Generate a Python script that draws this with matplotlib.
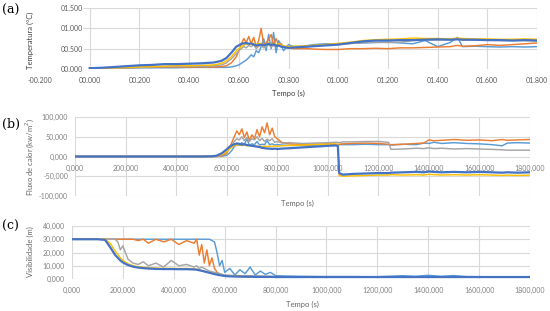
import matplotlib
matplotlib.use("Agg")
from matplotlib import pyplot as plt

plt.rcParams['font.family'] = ['Lato', 'DejaVu Sans']

# excel-ish palette
c_lb = "#5B9BD5"
c_or = "#ED7D31"
c_gr = "#A5A5A5"
c_ye = "#FFC000"
c_db = "#4472C4"

# ---------------- (a) temperatura ----------------
ta = [0, 0.05, 0.1, 0.15, 0.2, 0.25, 0.3, 0.35, 0.4, 0.45, 0.5, 0.53, 0.55, 0.57, 0.59,
      0.6, 0.61, 0.62, 0.63, 0.64, 0.65, 0.66, 0.67, 0.68, 0.69, 0.7, 0.71, 0.72, 0.73,
      0.74, 0.75, 0.76, 0.77, 0.78, 0.8, 0.82, 0.85, 0.88, 0.9, 0.95, 1.0, 1.05, 1.1,
      1.15, 1.2, 1.25, 1.3, 1.35, 1.4, 1.45, 1.48, 1.5, 1.55, 1.6, 1.65, 1.7, 1.75, 1.8]
a_lb = [0.01, 0.01, 0.02, 0.02, 0.03, 0.03, 0.03, 0.03, 0.04, 0.04, 0.04, 0.04, 0.04, 0.05,
        0.08, 0.10, 0.14, 0.18, 0.22, 0.28, 0.35, 0.30, 0.45, 0.40, 0.55, 0.75, 0.45, 0.85,
        0.50, 0.90, 0.40, 0.70, 0.60, 0.45, 0.60, 0.55, 0.55, 0.58, 0.60, 0.62, 0.62, 0.63,
        0.64, 0.65, 0.66, 0.64, 0.62, 0.70, 0.55, 0.65, 0.78, 0.55, 0.56, 0.55, 0.54, 0.55,
        0.54, 0.55]
a_or = [0.02, 0.02, 0.02, 0.03, 0.04, 0.04, 0.05, 0.05, 0.05, 0.05, 0.05, 0.06, 0.08, 0.15,
        0.30, 0.45, 0.60, 0.75, 0.65, 0.80, 0.62, 0.78, 0.55, 0.70, 1.00, 0.60, 0.65, 0.72,
        0.85, 0.60, 0.75, 0.58, 0.62, 0.55, 0.52, 0.50, 0.50, 0.50, 0.49, 0.48, 0.48, 0.50,
        0.50, 0.51, 0.50, 0.52, 0.52, 0.53, 0.54, 0.55, 0.58, 0.56, 0.57, 0.60, 0.58, 0.60,
        0.62, 0.64]
a_gr = [0.02, 0.02, 0.02, 0.03, 0.04, 0.05, 0.06, 0.06, 0.07, 0.07, 0.08, 0.10, 0.15, 0.25,
        0.38, 0.45, 0.50, 0.55, 0.52, 0.58, 0.55, 0.60, 0.50, 0.56, 0.58, 0.52, 0.55, 0.60,
        0.54, 0.58, 0.55, 0.57, 0.56, 0.55, 0.54, 0.55, 0.56, 0.57, 0.58, 0.60, 0.62, 0.63,
        0.65, 0.66, 0.65, 0.66, 0.70, 0.72, 0.71, 0.72, 0.73, 0.72, 0.71, 0.71, 0.70, 0.70,
        0.70, 0.69]
a_ye = [0.02, 0.02, 0.03, 0.04, 0.05, 0.06, 0.07, 0.08, 0.08, 0.09, 0.10, 0.14, 0.20, 0.30,
        0.45, 0.50, 0.55, 0.58, 0.62, 0.60, 0.65, 0.62, 0.60, 0.63, 0.62, 0.58, 0.62, 0.64,
        0.60, 0.63, 0.60, 0.62, 0.58, 0.57, 0.55, 0.56, 0.56, 0.57, 0.58, 0.60, 0.63, 0.66,
        0.70, 0.72, 0.73, 0.74, 0.76, 0.75, 0.75, 0.74, 0.76, 0.75, 0.74, 0.74, 0.73, 0.73,
        0.74, 0.73]
a_db = [0.02, 0.03, 0.05, 0.07, 0.09, 0.10, 0.12, 0.12, 0.13, 0.14, 0.16, 0.20, 0.27, 0.40,
        0.55, 0.58, 0.62, 0.63, 0.64, 0.62, 0.63, 0.60, 0.58, 0.59, 0.60, 0.58, 0.60, 0.62,
        0.59, 0.61, 0.57, 0.58, 0.55, 0.54, 0.52, 0.53, 0.54, 0.55, 0.56, 0.58, 0.60, 0.64,
        0.68, 0.70, 0.70, 0.71, 0.71, 0.72, 0.73, 0.72, 0.73, 0.72, 0.72, 0.71, 0.71, 0.70,
        0.71, 0.70]
a_xticks = [-0.2, 0, 0.2, 0.4, 0.6, 0.8, 1.0, 1.2, 1.4, 1.6, 1.8]
a_yticks = [0, 0.5, 1.0, 1.5]

# ---------------- (b) fluxo de calor ----------------
tb = [0, 100, 200, 300, 400, 500, 540, 560, 580, 600, 610, 620, 630, 640, 650, 660, 670,
      680, 690, 700, 710, 720, 730, 740, 750, 760, 770, 780, 790, 800, 820, 850, 900, 950,
      1000, 1030, 1040, 1045, 1060, 1100, 1150, 1200, 1240, 1250, 1300, 1350, 1380, 1400,
      1420, 1450, 1500, 1550, 1600, 1650, 1690, 1710, 1750, 1800]
b_lb = [0, 0, 0, 0, 0, 0, 0, 0, 0.5, 3, 8, 15, 25, 30, 28, 35, 30, 45, 28, 32, 30, 38, 29,
        31, 30, 40, 30, 32, 29, 30, 29, 28, 28, 29, 30, 30, 29, 30, 30, 30, 31, 30, 30, 29,
        31, 30, 34, 33, 36, 33, 35, 33, 32, 30, 27, 34, 35, 34]
b_or = [0, 0, 0, 0, 0, 0, 0, 0, 1, 8, 20, 35, 50, 65, 55, 70, 48, 62, 40, 55, 45, 68, 50,
        75, 60, 85, 55, 72, 50, 45, 35, 32, 30, 31, 32, 31, 30, 31, 32, 33, 34, 33, 31, 30,
        31, 33, 34, 42, 40, 41, 43, 41, 42, 40, 43, 41, 42, 43]
b_gr = [0, 0, 0, 0, 0, 0, 0, 0.5, 3, 12, 22, 30, 38, 45, 42, 50, 40, 48, 38, 45, 42, 50,
        40, 46, 38, 44, 40, 45, 36, 38, 34, 35, 33, 34, 35, 36, 36, 35, 37, 37, 38, 38, 36,
        18, 19, 21, 20, 22, 20, 21, 19, 20, 19, 18, 17, 16, 16, 16]
b_ye = [0, 0, 0, 0, 0, 0, 0, 1, 5, 12, 18, 24, 27, 29, 30, 28, 29, 27, 28, 26, 27, 25, 26,
        25, 26, 25, 26, 25, 27, 26, 27, 28, 29, 30, 31, 32, 31, -48, -50, -49, -48, -47,
        -47, -46, -47, -46, -47, -45, -46, -47, -46, -47, -46, -47, -48, -47, -48, -47]
b_db = [0, 0, 0, 0, 0, 0, 0.5, 2, 8, 18, 24, 28, 31, 33, 32, 30, 31, 29, 28, 27, 26, 25,
        24, 22, 21, 20, 20, 19, 20, 19, 20, 21, 23, 25, 27, 28, 27, -42, -46, -44, -43, -42,
        -42, -41, -40, -39, -40, -38, -39, -40, -39, -40, -39, -40, -41, -40, -41, -40]
b_xticks = [0, 200, 400, 600, 800, 1000, 1200, 1400, 1600, 1800]
b_yticks = [-100, -50, 0, 50, 100]

# ---------------- (c) visibilidade ----------------
tc = [0, 100, 130, 150, 170, 180, 190, 200, 220, 240, 260, 280, 300, 330, 360, 390, 420,
      450, 480, 490, 500, 510, 520, 530, 540, 550, 560, 570, 580, 590, 600, 620, 640, 660,
      680, 700, 720, 740, 760, 780, 800, 850, 900, 1000, 1100, 1200, 1300, 1350, 1400,
      1450, 1500, 1550, 1600, 1800]
c_lbv = [30, 30, 30, 30, 30, 30, 30, 30, 30, 30, 30, 30, 30, 30, 30, 30, 30, 30, 30, 30,
         30, 30, 30, 30, 30, 29, 28, 20, 10, 14, 5, 8, 3, 7, 4, 9, 3, 6, 3.5, 5, 2.5, 2.2,
         2.0, 1.8, 1.8, 1.7, 2.5, 2.0, 2.8, 2.0, 2.6, 1.8, 1.7, 1.6]
c_orv = [30, 30, 30, 30, 30, 30, 30, 30, 30, 30, 29, 30, 27, 30, 28, 30, 26, 29, 27, 30,
         18, 26, 12, 22, 10, 16, 8, 5, 4, 3, 2.5, 2.3, 2.2, 2.1, 2.0, 2.0, 1.9, 1.9, 1.8,
         1.8, 1.7, 1.7, 1.6, 1.6, 1.5, 1.5, 1.5, 1.5, 1.5, 1.5, 1.5, 1.5, 1.5, 1.5]
c_grv = [30, 30, 30, 30, 30, 28, 22, 25, 15, 12, 11, 13, 10, 12, 9, 14, 10, 11, 9, 10, 8,
         9, 8, 7, 6, 5.5, 5, 4.5, 4, 3.5, 3, 2.8, 2.6, 2.5, 2.4, 2.3, 2.3, 2.2, 2.1, 2.0,
         1.8, 1.7, 1.6, 1.5, 1.5, 1.5, 1.5, 1.5, 1.5, 1.5, 1.5, 1.5, 1.5, 1.5]
c_yev = [30, 30, 30, 27, 21, 18.5, 16, 14, 11.5, 10, 9.2, 8.8, 8.5, 8.2, 8.0, 8.0, 7.9,
         7.9, 7.6, 7.3, 6.9, 6.4, 5.9, 5.4, 4.9, 4.4, 3.9, 3.4, 3.0, 2.7, 2.4, 2.1, 2.0,
         1.9, 1.8, 1.7, 1.7, 1.6, 1.6, 1.6, 1.5, 1.5, 1.5, 1.5, 1.5, 1.5, 1.5, 1.5, 1.5,
         1.5, 1.5, 1.5, 1.5, 1.5]
c_dbv = [30, 30, 29.5, 24, 18, 16, 14, 12.5, 10.5, 9.3, 8.6, 8.2, 7.9, 7.6, 7.5, 7.5, 7.4,
         7.4, 7.2, 7.0, 6.6, 6.2, 5.7, 5.2, 4.7, 4.2, 3.7, 3.3, 2.9, 2.6, 2.3, 2.0, 1.9,
         1.8, 1.7, 1.7, 1.6, 1.6, 1.6, 1.6, 1.5, 1.5, 1.5, 1.5, 1.5, 1.5, 1.5, 1.5, 1.5,
         1.5, 1.5, 1.5, 1.5, 1.5]
c_xticks = [0, 200, 400, 600, 800, 1000, 1200, 1400, 1600, 1800]
c_yticks = [0, 10, 20, 30, 40]

grid_c = "#d9d9d9"
W, H = 550, 311
LW, LW_DB = 1.05, 1.6


def fmt_a(v):
    s = "-" if v < -1e-9 else ""
    return s + "%06.3f" % abs(v)


def fmt_bc(v):
    return ("%.3f" % v).replace(".", ",")


def clean(ax):
    for s in ax.spines.values():
        s.set_visible(False)
    ax.set_facecolor("none")


def draw(ax, x, series):
    for y, col, lw in series:
        ax.plot(x, y, color=col, lw=lw, solid_joinstyle="round")


fig = plt.figure(figsize=(W / 100, H / 100), dpi=100)

# (a)
ax = fig.add_axes([40 / W, 1 - 69 / H, 497 / W, 61 / H])
clean(ax)
ax.set_xlim(-0.2, 1.8)
ax.set_ylim(0, 1.5)
for xv in a_xticks[1:]:
    ax.axvline(xv, color=grid_c, lw=0.8, zorder=0)
ax.hlines(a_yticks, -0.025, 1.8, color=grid_c, lw=0.8, zorder=0)
draw(ax, ta, [(a_lb, c_lb, LW), (a_or, c_or, LW), (a_gr, c_gr, LW),
              (a_ye, c_ye, LW), (a_db, c_db, LW_DB)])
ax.spines["left"].set_position(("data", 0))
ax.set_xticks(a_xticks)
ax.set_xticklabels([fmt_a(v) for v in a_xticks])
ax.set_yticks(a_yticks)
ax.set_yticklabels([fmt_a(v) for v in a_yticks])
ax.tick_params(axis="both", length=0, labelsize=5, labelcolor="#595959")
ax.tick_params(axis="x", pad=6)
ax.tick_params(axis="y", pad=5)
fig.text(288 / W, 1 - 93 / H, "Tempo (s)", ha="center", va="center", fontsize=5.5, color="#404040")
fig.text(30 / W, 1 - 40 / H, "Temperatura (°C)", rotation=90, ha="center", va="center",
         fontsize=5.5, color="#404040")
fig.text(2 / W, 1 - 10 / H, "(a)", ha="left", va="center", fontsize=9, family="DejaVu Serif")

# (b)
ax = fig.add_axes([75 / W, 1 - 196 / H, 455 / W, 79 / H])
clean(ax)
ax.set_xlim(0, 1800)
ax.set_ylim(-100, 100)
ax.grid(True, color=grid_c, lw=0.8, zorder=0)
ax.set_axisbelow(True)
draw(ax, tb, [(b_lb, c_lb, LW), (b_or, c_or, LW), (b_gr, c_gr, LW),
              (b_ye, c_ye, LW), (b_db, c_db, LW_DB)])
ax.spines["bottom"].set_position(("data", 0))
ax.set_xticks(b_xticks)
ax.set_xticklabels([fmt_bc(v) for v in b_xticks])
ax.set_yticks(b_yticks)
ax.set_yticklabels([fmt_bc(v) for v in b_yticks])
ax.tick_params(axis="both", length=0, labelsize=5, labelcolor="#808080")
ax.tick_params(axis="x", pad=6)
ax.tick_params(axis="y", pad=5)
fig.text(297 / W, 1 - 203 / H, "Tempo (s)", ha="center", va="center", fontsize=5.5, color="#666666")
fig.text(30 / W, 1 - 157 / H, "Fluxo de calor (kw/m$^2$)", rotation=90, ha="center", va="center",
         fontsize=5.5, color="#666666")
fig.text(2 / W, 1 - 124 / H, "(b)", ha="left", va="center", fontsize=9, family="DejaVu Serif")

# (c)
ax = fig.add_axes([72 / W, 1 - 279 / H, 458 / W, 53 / H])
clean(ax)
ax.set_xlim(0, 1800)
ax.set_ylim(0, 40)
ax.grid(True, color=grid_c, lw=0.8, zorder=0)
ax.set_axisbelow(True)
draw(ax, tc, [(c_lbv, c_lb, LW), (c_orv, c_or, LW), (c_grv, c_gr, LW),
              (c_yev, c_ye, LW), (c_dbv, c_db, LW_DB)])
ax.set_xticks(c_xticks)
ax.set_xticklabels([fmt_bc(v) for v in c_xticks])
ax.set_yticks(c_yticks)
ax.set_yticklabels([fmt_bc(v) for v in c_yticks])
ax.tick_params(axis="both", length=0, labelsize=5, labelcolor="#808080")
ax.tick_params(axis="x", pad=6)
ax.tick_params(axis="y", pad=5)
fig.text(302 / W, 1 - 304 / H, "Tempo (s)", ha="center", va="center", fontsize=5.5, color="#666666")
fig.text(30 / W, 1 - 252 / H, "Visibilidade (m)", rotation=90, ha="center", va="center",
         fontsize=5.5, color="#666666")
fig.text(2 / W, 1 - 226 / H, "(c)", ha="left", va="center", fontsize=9, family="DejaVu Serif")

fig.savefig("out.png", dpi=100)
